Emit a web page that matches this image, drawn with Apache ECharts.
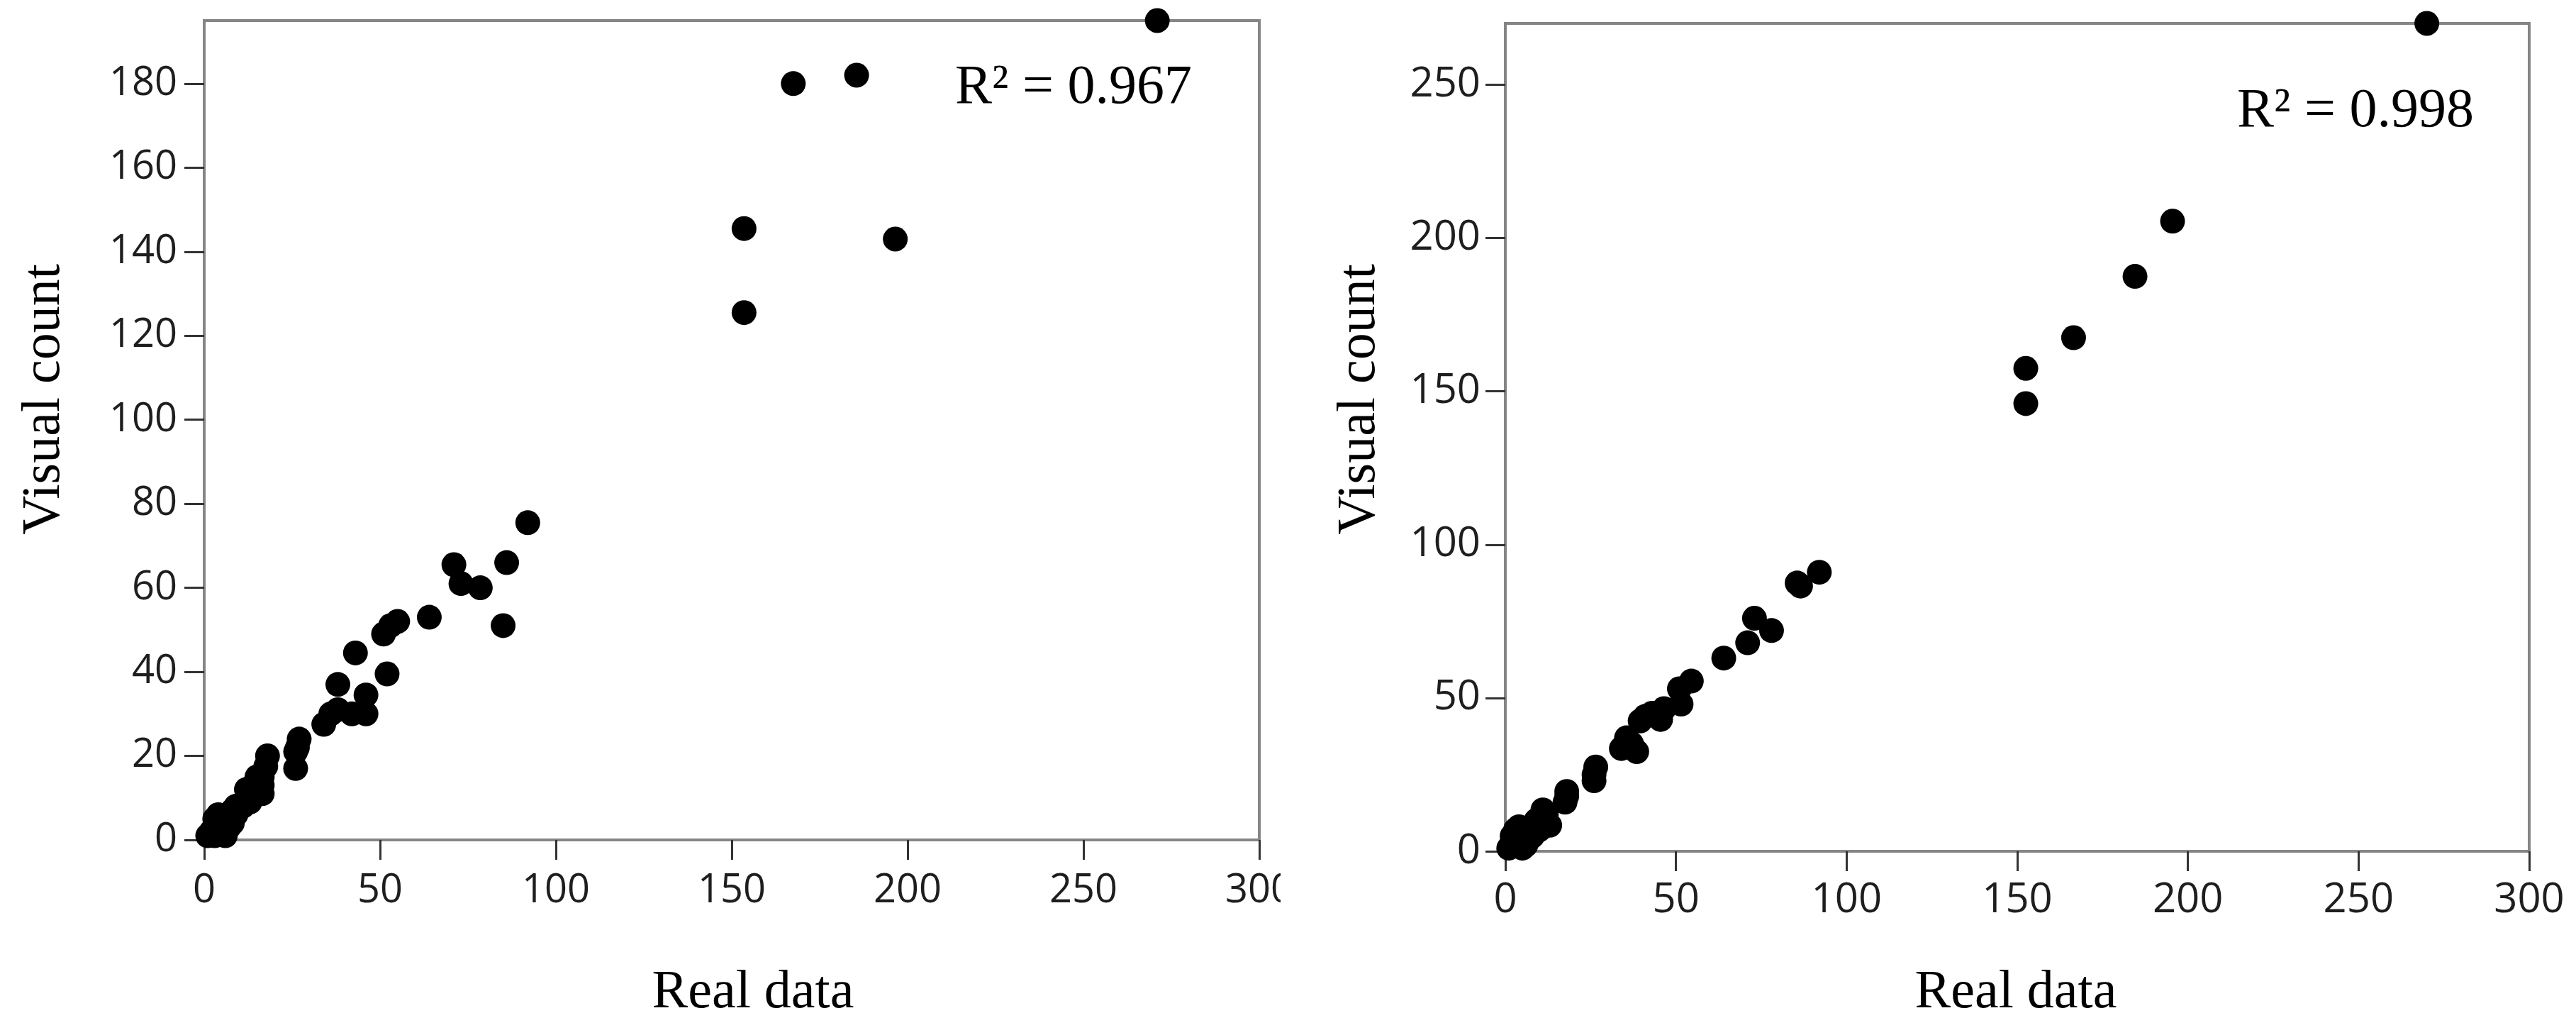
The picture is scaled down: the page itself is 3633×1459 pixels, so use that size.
<!DOCTYPE html>
<html>
<head>
<meta charset="utf-8">
<script src="https://cdn.jsdelivr.net/npm/echarts@6/dist/echarts.min.js"></script>
<style>
  html, body { margin: 0; padding: 0; background: #fff; }
  #wrap { position: relative; width: 3633px; height: 1459px; overflow: hidden; }
  #left { position: absolute; left: 0; top: 0; width: 1806px; height: 1459px; }
  #right { position: absolute; left: 1806px; top: 0; width: 1827px; height: 1459px; }
</style>
</head>
<body>
<div id="wrap">
  <div id="left"></div>
  <div id="right"></div>
</div>
<script>
// x ticks shared by both panels
const xTicks = [0, 50, 100, 150, 200, 250, 300];
const leftYTicks = [0, 20, 40, 60, 80, 100, 120, 140, 160, 180];
const rightYTicks = [0, 50, 100, 150, 200, 250];

// left panel: real data vs visual count (R2 = 0.967)
const leftReal = [
  153.5, 153.5, 167.5, 185.5, 196.5, 271,
  92, 86, 85, 71, 73, 78.5, 64, 55, 53, 51, 43, 52, 38, 46,
  46, 42, 38, 34, 36, 27, 26.5, 26, 26, 18, 17.5, 16.5, 16.5, 16.5,
  14, 12, 11, 9, 8, 7, 6, 5, 4, 3, 2, 1, 3, 5, 7, 6,
  12, 14, 15, 13, 10, 4, 8, 9
];
const leftVisual = [
  145.5, 125.5, 180, 182, 143, 195,
  75.5, 66, 51, 65.5, 61, 60, 53, 52, 51, 49, 44.5, 39.5, 37, 34.5,
  30, 30, 31, 27.5, 30, 24, 22, 21, 17, 20, 17.5, 15, 13, 11,
  11, 10, 8, 8, 7, 6, 5, 4, 3, 5, 2, 1, 1, 2, 3, 1,
  12, 13, 15, 9, 8, 6, 4, 6
];

// right panel: real data vs visual count (R2 = 0.998)
const rightReal = [
  152.5, 152.5, 166.5, 184.5, 195.5, 270,
  92, 85.5, 86.5, 73, 78, 71, 64, 54.5, 51, 51.5, 46.5, 43, 39.5, 45.5,
  41, 35.5, 34, 38.5, 37, 26.5, 26, 26, 18, 17.5, 18, 13, 11, 12,
  9, 8, 6, 5, 4, 2, 3, 1, 7, 6, 5, 3,
  10, 8, 4, 2
];
const rightVisual = [
  157.5, 146, 167.5, 187.5, 205.5, 270,
  91, 87.5, 86.5, 76, 72, 68, 63, 55.5, 53, 48, 46.5, 45, 42.5, 43,
  44, 37, 33.5, 32.5, 35, 27.5, 25, 23, 19.5, 16, 18, 8.5, 13.5, 12,
  10, 8, 6, 4, 5, 3, 2, 1, 4, 2, 1, 7,
  7, 5, 8, 5
];

const sansFont = "'Open Sans', 'Noto Sans', sans-serif";
const serifFont = "'Liberation Serif', 'DejaVu Serif', serif";

function pairs(xs, ys) {
  return xs.map((x, i) => [x, ys[i]]);
}

function buildOption(cfg) {
  return {
    animation: false,
    backgroundColor: "#fff",
    grid: {
      left: cfg.left, right: cfg.right, top: cfg.top, bottom: cfg.bottom,
      containLabel: false, outerBoundsMode: "none",
      show: true, borderColor: "#858585", borderWidth: 4,
      backgroundColor: "transparent"
    },
    xAxis: {
      type: "value", min: 0, max: 300, interval: 50,
      splitLine: { show: false },
      axisLine: { show: true, lineStyle: { color: "#858585", width: 4 } },
      axisTick: { show: true, length: 28, customValues: xTicks,
        lineStyle: { color: "#333", width: 3 } },
      axisLabel: { margin: cfg.xMargin, customValues: xTicks,
        fontFamily: sansFont, fontSize: cfg.fontSize, color: "#1e1e1e" }
    },
    yAxis: {
      type: "value", min: 0, max: cfg.yMax,
      splitLine: { show: false },
      axisLine: { show: true, lineStyle: { color: "#858585", width: 4 } },
      axisTick: { show: true, length: 28, customValues: cfg.yTicks,
        lineStyle: { color: "#333", width: 3 } },
      axisLabel: { margin: cfg.yMargin, customValues: cfg.yTicks,
        fontFamily: sansFont, fontSize: cfg.fontSize, color: "#1e1e1e" }
    },
    graphic: [
      {
        type: "text", x: cfg.yTitle[0], y: cfg.yTitle[1], rotation: Math.PI / 2,
        style: { text: "Visual count", font: "76px " + serifFont, fill: "#000",
          align: "center", verticalAlign: "middle" }
      },
      {
        type: "text", x: cfg.xTitle[0], y: cfg.xTitle[1],
        style: { text: "Real data", font: "76px " + serifFont, fill: "#000",
          align: "center", verticalAlign: "middle" }
      },
      {
        type: "text", x: cfg.r2[0], y: cfg.r2[1],
        style: { text: cfg.r2Text, font: "78px " + serifFont, fill: "#000",
          align: "left", verticalAlign: "middle" }
      }
    ],
    series: [{
      type: "scatter",
      symbol: "circle",
      symbolSize: 35,
      itemStyle: { color: "#000", opacity: 1 },
      data: pairs(cfg.xs, cfg.ys)
    }]
  };
}

const leftChart = echarts.init(document.getElementById("left"));
leftChart.setOption(buildOption({
  left: 288, right: 30, top: 29, bottom: 275,
  yMax: 195, yTicks: leftYTicks, fontSize: 56, xMargin: 44, yMargin: 38,
  yTitle: [63, 563], xTitle: [1062, 1400], r2: [1347, 125], r2Text: "R\u00b2 = 0.967",
  xs: leftReal, ys: leftVisual
}));

const rightChart = echarts.init(document.getElementById("right"));
rightChart.setOption(buildOption({
  left: 317, right: 66, top: 33, bottom: 259,
  yMax: 270, yTicks: rightYTicks, fontSize: 58, xMargin: 40, yMargin: 35,
  yTitle: [112, 563], xTitle: [1037, 1400], r2: [1349, 158], r2Text: "R\u00b2 = 0.998",
  xs: rightReal, ys: rightVisual
}));

window.addEventListener("resize", function () {
  leftChart.resize();
  rightChart.resize();
});
</script>
</body>
</html>
